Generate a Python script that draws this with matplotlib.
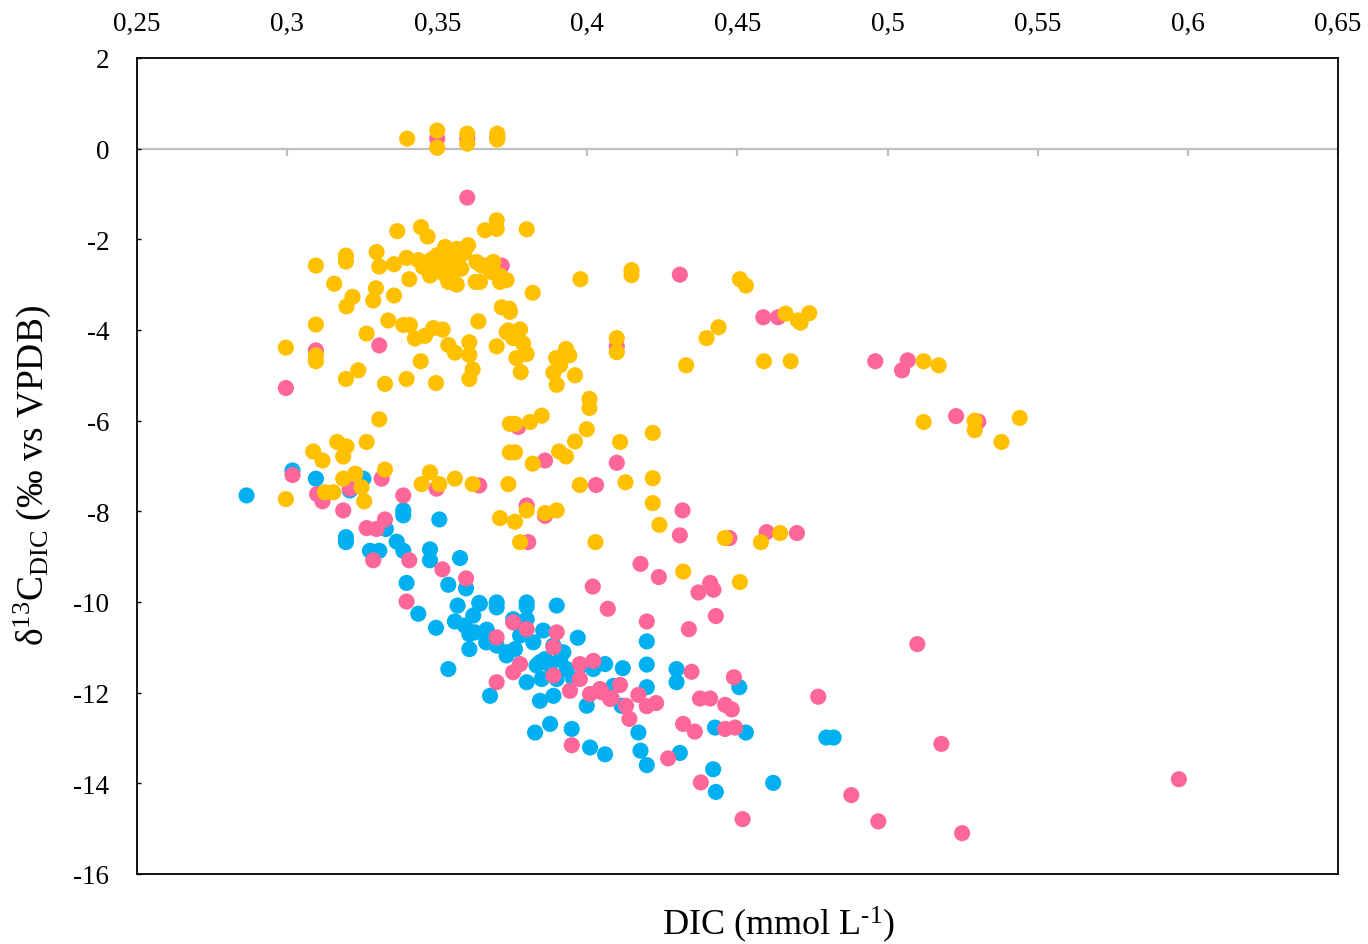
import matplotlib
matplotlib.use('Agg')
import matplotlib.pyplot as plt
from matplotlib.ticker import FuncFormatter

plt.rcParams['font.family'] = ['Liberation Serif', 'DejaVu Serif']
plt.rcParams['mathtext.fontset'] = 'custom'
plt.rcParams['mathtext.rm'] = 'Liberation Serif'
plt.rcParams['mathtext.it'] = 'Liberation Serif:italic'
plt.rcParams['axes.unicode_minus'] = False

# DIC (mmol/L) and d13C-DIC values
blue_x = [0.2865, 0.3018, 0.3096, 0.3209, 0.3254, 0.3196, 0.3196, 0.3329, 0.3276, 0.3307,
          0.3365, 0.3387, 0.3387, 0.3387, 0.3507, 0.3476, 0.3476, 0.3576, 0.3398, 0.3537,
          0.3596, 0.3437, 0.3496, 0.3568, 0.364, 0.3698, 0.3698, 0.362, 0.3559, 0.3592,
          0.3607, 0.3626, 0.3665, 0.3663, 0.3698, 0.3607, 0.3731, 0.3537, 0.3731, 0.3753,
          0.3759, 0.3776, 0.3798, 0.3798, 0.3798, 0.382, 0.3853, 0.3859, 0.3887, 0.3898,
          0.3909, 0.392, 0.3931, 0.3842, 0.3848, 0.3898, 0.3876, 0.3798, 0.3831, 0.3968,
          0.3981, 0.3953, 0.402, 0.4059, 0.3998, 0.3842, 0.3887, 0.3676, 0.3826, 0.3876,
          0.3948, 0.4009, 0.4059, 0.4198, 0.4118, 0.4198, 0.4198, 0.4297, 0.4297, 0.4506,
          0.4087, 0.4114, 0.4425, 0.4528, 0.417, 0.4177, 0.4308, 0.4198, 0.4419, 0.4428,
          0.4619, 0.4796, 0.482, 0.3642]
blue_y = [-7.65, -7.1, -7.28, -7.54, -7.28, -8.57, -8.68, -8.39, -8.87, -8.87,
          -8.67, -8.87, -7.98, -8.09, -8.18, -8.84, -9.08, -9.03, -9.58, -9.62,
          -9.7, -10.26, -10.57, -10.08, -10.02, -10.01, -10.12, -10.3, -10.43, -10.52,
          -10.71, -10.67, -10.61, -10.89, -10.96, -11.04, -11.11, -11.48, -11.18, -10.38,
          -11.04, -10.74, -10.1, -10.38, -10.01, -10.89, -10.63, -11.26, -10.96, -10.08,
          -11.26, -11.11, -11.48, -11.33, -11.7, -11.7, -11.4, -11.77, -11.4, -10.79,
          -11.4, -11.7, -11.48, -11.37, -12.29, -12.18, -12.07, -12.07, -12.88, -12.69,
          -12.8, -13.21, -13.36, -10.87, -11.46, -11.38, -11.88, -11.48, -11.77, -11.88,
          -11.85, -12.29, -12.77, -12.88, -12.88, -13.28, -13.33, -13.6, -13.69, -14.19,
          -13.99, -12.99, -12.99, -10.04]

pink_x = [0.35, 0.36, 0.37, 0.36, 0.3715, 0.4308, 0.4586, 0.4635, 0.3096, 0.2996,
          0.3307, 0.4098, 0.4959, 0.5067, 0.5048, 0.5228, 0.5302, 0.377, 0.3859, 0.4098,
          0.4029, 0.3018, 0.3315, 0.3387, 0.3498, 0.364, 0.31, 0.3118, 0.3209, 0.3187,
          0.3265, 0.3298, 0.3326, 0.3287, 0.3407, 0.3517, 0.3596, 0.3398, 0.3698, 0.3798,
          0.3859, 0.3803, 0.4473, 0.4597, 0.4698, 0.4317, 0.4308, 0.4177, 0.4238, 0.4018,
          0.4068, 0.437, 0.4409, 0.442, 0.4198, 0.4428, 0.4338, 0.3753, 0.3798, 0.3898,
          0.3887, 0.3776, 0.3753, 0.3698, 0.3887, 0.3975, 0.402, 0.3942, 0.3975, 0.4009,
          0.4042, 0.4076, 0.3948, 0.4347, 0.4488, 0.4375, 0.4409, 0.4459, 0.4481, 0.4319,
          0.4358, 0.4459, 0.4492, 0.4109, 0.4081, 0.417, 0.4198, 0.4229, 0.4129, 0.414,
          0.4048, 0.4269, 0.4378, 0.4517, 0.5099, 0.4769, 0.5179, 0.4879, 0.4969, 0.5248,
          0.597]
pink_y = [0.22, 0.22, 0.25, -1.08, -2.58, -2.78, -3.72, -3.72, -4.45, -5.28,
          -4.34, -4.36, -4.69, -4.67, -4.89, -5.9, -6.02, -6.14, -6.88, -6.93,
          -7.42, -7.2, -7.28, -7.65, -7.5, -7.43, -7.62, -7.78, -7.5, -7.98,
          -8.37, -8.39, -8.18, -9.08, -9.08, -9.28, -9.48, -9.99, -10.78, -7.87,
          -8.1, -8.68, -8.59, -8.46, -8.48, -7.98, -8.53, -9.16, -9.45, -9.66,
          -10.15, -9.79, -9.58, -9.73, -10.43, -10.31, -10.6, -10.45, -10.6, -10.67,
          -11.0, -11.37, -11.55, -11.77, -11.62, -11.37, -11.3, -11.96, -11.7, -12.03,
          -11.92, -12.14, -13.16, -11.54, -11.66, -12.13, -12.13, -12.27, -12.37, -12.69,
          -12.86, -12.8, -12.77, -11.83, -12.12, -12.05, -12.3, -12.23, -12.29, -12.58,
          -11.99, -13.45, -13.98, -14.79, -10.93, -12.09, -13.13, -14.26, -14.84, -15.1,
          -13.91]

yellow_x = [0.34, 0.35, 0.35, 0.36, 0.36, 0.37, 0.37, 0.3096, 0.3157, 0.3196,
            0.3196, 0.3218, 0.3198, 0.3298, 0.3307, 0.3296, 0.3287, 0.3356, 0.3356, 0.3367,
            0.3398, 0.3407, 0.3446, 0.3468, 0.3437, 0.3453, 0.3476, 0.3526, 0.3565, 0.3603,
            0.348, 0.350, 0.352, 0.354, 0.356, 0.358, 0.355, 0.353, 0.357, 0.359,
            0.352, 0.350, 0.3537, 0.3565, 0.3628, 0.3631, 0.3659, 0.3687, 0.3698, 0.3698,
            0.3659, 0.3709, 0.3715, 0.3648, 0.3681, 0.3709, 0.3731, 0.3642, 0.3798, 0.3818,
            0.374, 0.3977, 0.4147, 0.4147, 0.4508, 0.4528, 0.466, 0.4701, 0.471, 0.4739,
            0.4677, 0.512, 0.517, 0.512, 0.529, 0.529, 0.5379, 0.544, 0.4642, 0.2996,
            0.3096, 0.3096, 0.3096, 0.3265, 0.3196, 0.3237, 0.3326, 0.3337, 0.3387, 0.3409,
            0.3426, 0.3459, 0.3487, 0.3518, 0.3398, 0.3445, 0.3496, 0.3537, 0.3559, 0.3607,
            0.3607, 0.3618, 0.3607, 0.3637, 0.3698, 0.3742, 0.3731, 0.3307, 0.3087, 0.3118,
            0.3167, 0.3198, 0.3187, 0.3265, 0.3326, 0.3187, 0.3227, 0.3248, 0.3126, 0.3154,
            0.2996, 0.3448, 0.3476, 0.3507, 0.3559, 0.3618, 0.3737, 0.3742, 0.3742, 0.3737,
            0.3776, 0.3753, 0.3786, 0.3798, 0.3764, 0.3778, 0.3929, 0.394, 0.3896, 0.3909,
            0.3887, 0.3898, 0.3959, 0.4098, 0.4098, 0.4329, 0.4397, 0.4437, 0.4588, 0.4007,
            0.4007, 0.3759, 0.3809, 0.3848, 0.3998, 0.3759, 0.3818, 0.3906, 0.3929, 0.3959,
            0.4109, 0.4218, 0.3975, 0.4127, 0.4218, 0.4218, 0.424, 0.3709, 0.3759, 0.3798,
            0.3859, 0.3898, 0.3776, 0.4027, 0.4319, 0.4458, 0.4578, 0.4508, 0.3257]
yellow_y = [0.22, 0.4, 0.02, 0.33, 0.11, 0.33, 0.2, -2.58, -2.98, -2.36,
            -2.49, -3.27, -3.48, -2.28, -2.6, -3.08, -3.35, -2.55, -3.24, -1.82,
            -2.41, -2.88, -1.73, -1.94, -2.46, -2.61, -2.8, -2.17, -2.21, -2.13,
            -2.45, -2.6, -2.55, -2.7, -2.4, -2.65, -2.9, -2.5, -2.55, -2.3,
            -2.75, -2.35, -2.94, -3.0, -2.94, -2.5, -2.58, -2.5, -1.58, -1.77,
            -1.8, -2.94, -3.5, -2.58, -2.72, -2.8, -2.9, -2.94, -1.78, -3.18,
            -3.53, -2.88, -2.68, -2.79, -2.88, -3.02, -3.64, -3.79, -3.84, -3.63,
            -4.69, -4.69, -4.78, -6.03, -6.0, -6.21, -6.47, -5.94, -8.48, -4.39,
            -3.88, -4.56, -4.69, -4.08, -5.08, -4.89, -5.19, -3.79, -3.89, -3.89,
            -4.19, -4.13, -3.96, -3.99, -5.08, -4.69, -5.17, -4.33, -4.5, -4.27,
            -4.55, -4.87, -5.08, -3.81, -4.36, -3.6, -4.05, -5.97, -6.68, -6.88,
            -6.47, -6.57, -6.79, -6.47, -7.08, -7.28, -7.17, -7.47, -7.58, -7.58,
            -7.73, -7.4, -7.14, -7.4, -7.28, -7.4, -7.4, -6.07, -6.7, -4.01,
            -3.99, -4.18, -4.3, -4.53, -4.62, -4.93, -4.42, -4.56, -4.62, -4.78,
            -4.94, -5.21, -5.0, -4.18, -4.49, -4.78, -4.18, -3.94, -4.69, -5.52,
            -5.72, -6.07, -6.03, -5.89, -6.19, -6.7, -6.95, -6.68, -6.79, -6.46,
            -6.47, -6.27, -7.42, -7.36, -7.27, -7.82, -8.3, -8.15, -8.23, -7.98,
            -8.04, -7.98, -8.68, -8.68, -9.33, -8.59, -8.68, -9.56, -7.78]

x_ticks = [0.25, 0.3, 0.35, 0.4, 0.45, 0.5, 0.55, 0.6, 0.65]
y_ticks = [-16, -14, -12, -10, -8, -6, -4, -2, 0, 2]


def comma_fmt(v, pos):
    return f'{v:g}'.replace('.', ',')


fig = plt.figure(figsize=(13.68, 9.45), dpi=100)
ax = fig.add_axes([0.1001, 0.0741, 0.878, 0.8635])

size = 135
ax.scatter(blue_x, blue_y, s=size, color='#00B0F0', edgecolors='none', zorder=3)
ax.scatter(pink_x, pink_y, s=size, color='#FF6699', edgecolors='none', zorder=4)
ax.scatter(yellow_x, yellow_y, s=size, color='#FFC000', edgecolors='none', zorder=5)

ax.set_xlim(0.25, 0.65)
ax.set_ylim(-16, 2)

# horizontal axis line crossing at y = 0, with its small tick marks
ax.axhline(0, color='#BFBFBF', lw=1.6, zorder=1)
ax.vlines(x_ticks, -0.16, 0, color='#BFBFBF', lw=1.6, zorder=1)

ax.set_xticks(x_ticks)
ax.set_yticks(y_ticks)
ax.xaxis.set_major_formatter(FuncFormatter(comma_fmt))
ax.tick_params(axis='x', which='both', top=False, bottom=False,
               labeltop=True, labelbottom=False, length=0, pad=16, labelsize=19.5)
ax.tick_params(axis='y', direction='in', length=3, width=1, pad=20, labelsize=19.5)

for sp in ax.spines.values():
    sp.set_color('black')
    sp.set_linewidth(1.3)

ax.set_xlabel('DIC (mmol L$^{\\mathregular{\\text{-}1}}$)', fontsize=26)
ax.xaxis.set_label_coords(0.534, -0.036)
ax.set_ylabel(r'δ$^{\mathregular{13}}$C$_{\mathregular{DIC}}$ (‰ vs VPDB)', fontsize=27)
ax.yaxis.set_label_coords(-0.07, 0.49)

fig.savefig('out.png', dpi=100)
